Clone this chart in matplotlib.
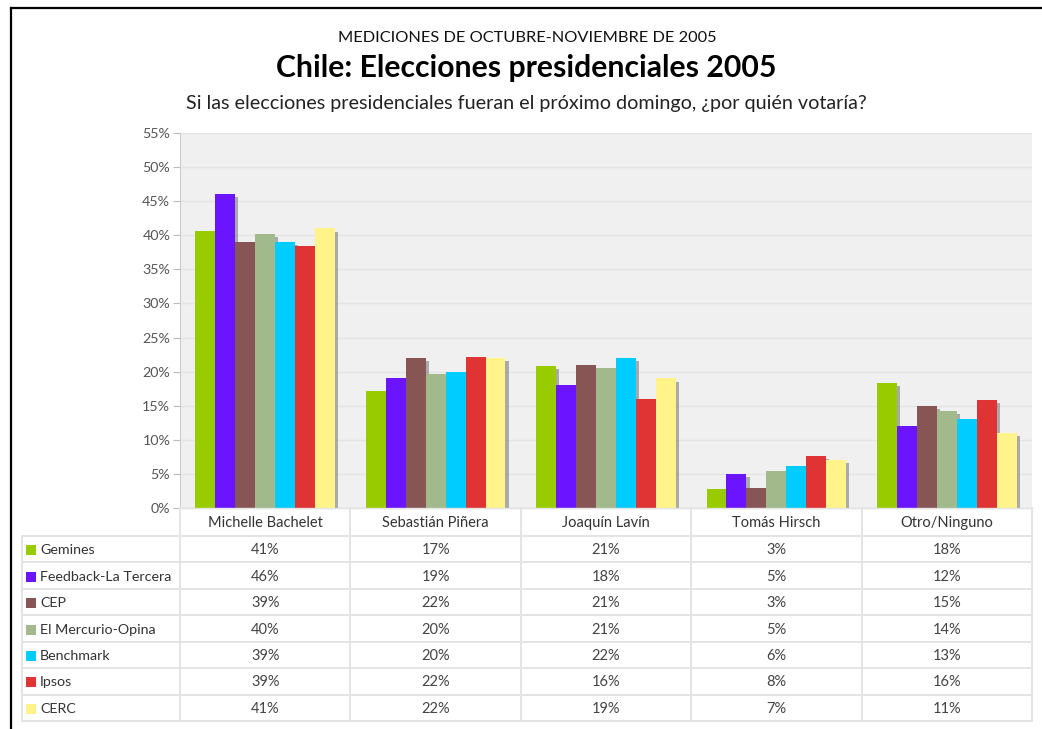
import matplotlib
matplotlib.use("Agg")
import matplotlib.pyplot as plt
import matplotlib.patheffects as pe
from matplotlib.lines import Line2D
from matplotlib.patches import Rectangle
import numpy as np

plt.rcParams['font.family'] = ['Lato', 'DejaVu Sans']

candidates = ["Michelle Bachelet", "Sebastián Piñera", "Joaquín Lavín", "Tomás Hirsch", "Otro/Ninguno"]
pollsters = ["Gemines", "Feedback-La Tercera", "CEP", "El Mercurio-Opina", "Benchmark", "Ipsos", "CERC"]
colors = ["#99cc00", "#6a14ff", "#885555", "#a2b98c", "#00ccff", "#e03333", "#fff389"]

# bar heights (as drawn)
gemines   = [40.6, 17.2, 20.9, 2.8, 18.4]
feedback  = [46.0, 19.0, 18.0, 5.0, 12.0]
cep       = [39.0, 22.0, 21.0, 3.0, 15.0]
mercurio  = [40.2, 19.6, 20.5, 5.4, 14.2]
benchmark = [39.0, 20.0, 22.0, 6.1, 13.1]
ipsos     = [38.5, 22.1, 16.0, 7.6, 15.9]
cerc      = [41.0, 22.0, 19.0, 7.0, 11.0]
series = [gemines, feedback, cep, mercurio, benchmark, ipsos, cerc]

# table values (as printed)
t_gemines   = ["41%", "17%", "21%", "3%", "18%"]
t_feedback  = ["46%", "19%", "18%", "5%", "12%"]
t_cep       = ["39%", "22%", "21%", "3%", "15%"]
t_mercurio  = ["40%", "20%", "21%", "5%", "14%"]
t_benchmark = ["39%", "20%", "22%", "6%", "13%"]
t_ipsos     = ["39%", "22%", "16%", "8%", "16%"]
t_cerc      = ["41%", "22%", "19%", "7%", "11%"]
table_rows = [t_gemines, t_feedback, t_cep, t_mercurio, t_benchmark, t_ipsos, t_cerc]

yticks = list(range(0, 56, 5))
ytick_labels = [f"{v}%" for v in yticks]

title_top = "MEDICIONES DE OCTUBRE-NOVIEMBRE DE 2005"
title_main = "Chile: Elecciones presidenciales 2005"
subtitle = "Si las elecciones presidenciales fueran el próximo domingo, ¿por quién votaría?"

W, H = 1042, 729
fig = plt.figure(figsize=(W / 100, H / 100), dpi=100)
fig.patch.set_facecolor("white")

def fx(x):
    return x / W

def fy(y):
    return 1 - y / H

# outer frame (top and left lines)
fig.add_artist(Line2D([fx(10.5), fx(1042)], [fy(7.5), fy(7.5)], color="black", lw=1.6))
fig.add_artist(Line2D([fx(10.5), fx(10.5)], [fy(7.5), fy(729)], color="black", lw=1.6))

# titles
fig.text(fx(527), fy(38), title_top, ha="center", va="center", fontsize=11.8, color="#111111")
fig.text(fx(526), fy(68), title_main, ha="center", va="center", fontsize=21.7, fontweight="bold", color="black")
fig.text(fx(526), fy(104), subtitle, ha="center", va="center", fontsize=14.2, color="#222222")

# plot axes
L, R, T, B = 180, 1032, 133, 508
ax = fig.add_axes([fx(L), fy(B), fx(R - L), (B - T) / H])
ax.set_facecolor("#f0f0f0")
ax.set_ylim(0, 55)
ax.set_xlim(-0.5, len(candidates) - 0.5)
ax.set_yticks(yticks)
ax.set_yticklabels(ytick_labels, fontsize=10.3, color="#555555")
ax.set_xticks([])
ax.tick_params(axis="y", length=5, color="#bbbbbb", pad=2)
ax.yaxis.grid(True, color="#e4e4e4", lw=1)
ax.set_axisbelow(True)
for s in ["top", "right"]:
    ax.spines[s].set_visible(False)
ax.spines["left"].set_color("#cccccc")
ax.spines["bottom"].set_color("#aaaaaa")

n = len(series)
group = 0.82
bw = group / n
x = np.arange(len(candidates))
shadow = [pe.SimplePatchShadow(offset=(2.2, -2.2), shadow_rgbFace="#666666", alpha=0.5), pe.Normal()]
for i, (vals, c) in enumerate(zip(series, colors)):
    pos = x - group / 2 + bw * (i + 0.5)
    bars = ax.bar(pos, vals, width=bw, color=c, edgecolor="none", zorder=3 + i * 0.01)
    for b in bars:
        b.set_path_effects(shadow)

# table
TL, TB = 22, 721
hdr_top, hdr_bot = 508, 536
row_h = (TB - hdr_bot) / len(pollsters)
col_w = (R - L) / len(candidates)
lc = "#e4e4e4"

# horizontal lines
fig.add_artist(Line2D([fx(L), fx(R)], [fy(hdr_top), fy(hdr_top)], color=lc, lw=1))
for k in range(len(pollsters) + 1):
    yy = hdr_bot + k * row_h
    fig.add_artist(Line2D([fx(TL), fx(R)], [fy(yy), fy(yy)], color=lc, lw=1.4))
# vertical lines
fig.add_artist(Line2D([fx(TL), fx(TL)], [fy(hdr_bot), fy(TB)], color=lc, lw=1.4))
for k in range(len(candidates) + 1):
    xx = L + k * col_w
    fig.add_artist(Line2D([fx(xx), fx(xx)], [fy(hdr_top), fy(TB)], color=lc, lw=1.4))

for j, cand in enumerate(candidates):
    fig.text(fx(L + (j + 0.5) * col_w), fy((hdr_top + hdr_bot) / 2 + 1), cand,
             ha="center", va="center", fontsize=10.5, color="#333333")

for i, (name, c, row) in enumerate(zip(pollsters, colors, table_rows)):
    yc = hdr_bot + (i + 0.5) * row_h + 1
    fig.add_artist(Rectangle((fx(26), fy(yc + 5)), 10 / W, 10 / H, facecolor=c, edgecolor="none"))
    fig.text(fx(40), fy(yc), name, ha="left", va="center", fontsize=10.3, color="#333333")
    for j, v in enumerate(row):
        fig.text(fx(L + (j + 0.5) * col_w), fy(yc), v, ha="center", va="center",
                 fontsize=10.5, color="#444444")

fig.savefig("out.png", dpi=100, facecolor="white")
